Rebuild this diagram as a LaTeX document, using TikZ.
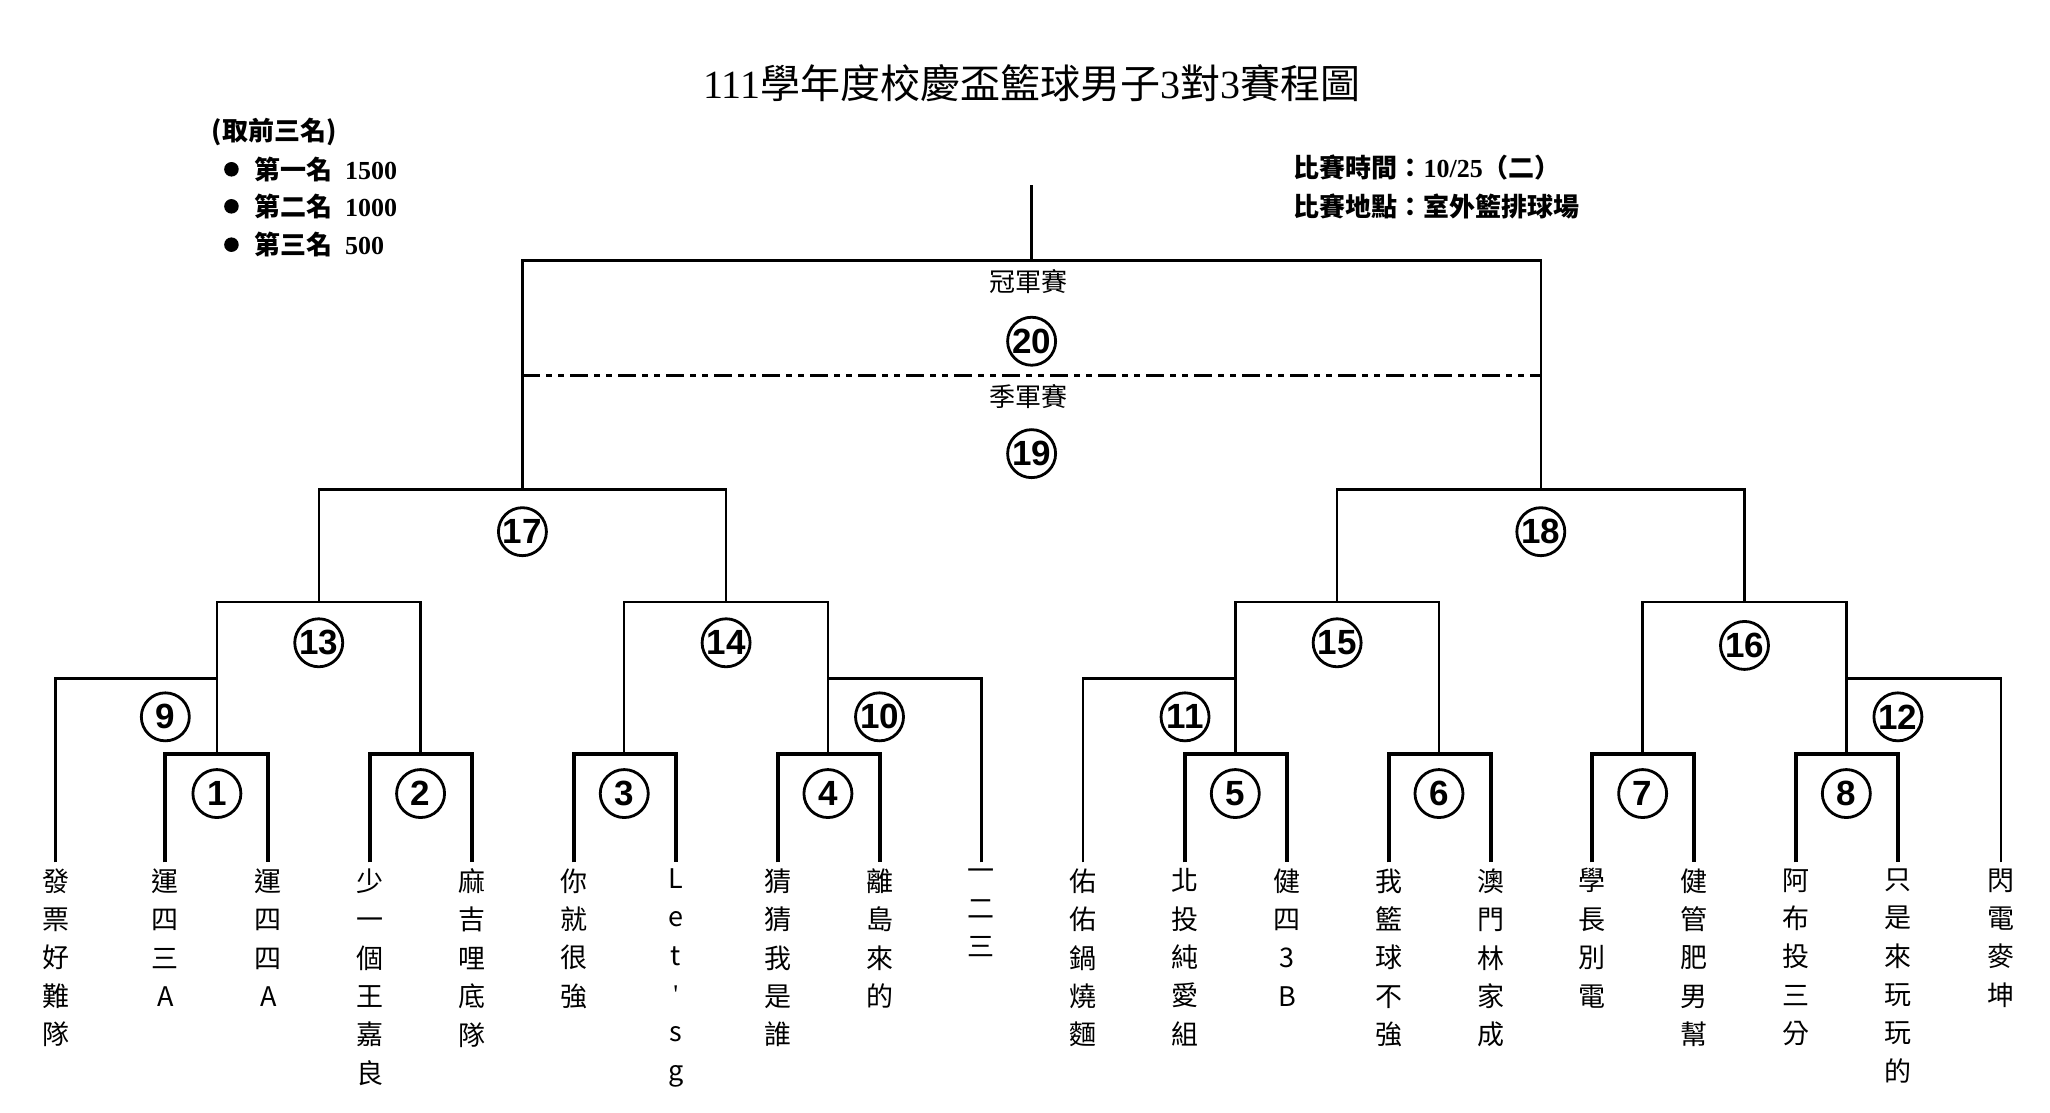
\documentclass[tikz,border=0pt]{standalone}
\usepackage{fontspec}
\setmainfont{Noto Sans CJK TC}
\newfontfamily\numf{Liberation Sans}
\newfontfamily\serf{Liberation Serif}
\begin{document}
\begin{tikzpicture}[x=1.3226pt,y=-1.3226pt,
  ln/.style={line width=2.4pt},
  r1/.style={line width=4pt},
  num/.style={circle,draw,line width=2.8pt,minimum size=48pt,inner sep=0pt,font=\numf\bfseries\fontsize{35}{35}\selectfont},
  leaf/.style={anchor=north,inner sep=0pt,align=center,font=\fontsize{27}{38.4}\selectfont,execute at begin node=\vphantom{發}},
  lab/.style={font=\fontsize{26}{28}\selectfont},
  leg/.style={anchor=west,inner sep=0pt,font=\bfseries\fontsize{26}{28}\selectfont}]
\useasboundingbox (0,0) rectangle (1550,840.8);
% leaves
\foreach \i/\x in {1/42,2/125,3/203,4/280,5/357,6/434,7/511,8/588,9/665,10/742,11/819,12/896,13/973,14/1050,15/1127,16/1204,17/1281,18/1358,19/1435,20/1513}
  \coordinate (L\i) at (\x,652);
\foreach \i/\t in {1/發\\票\\好\\難\\隊,2/運\\四\\三\\A,3/運\\四\\四\\A,4/少\\一\\個\\王\\嘉\\良,5/麻\\吉\\哩\\底\\隊,
  6/你\\就\\很\\強,7/L\\e\\t\\{\serf\textquotesingle}\\s\\g,8/猜\\猜\\我\\是\\誰,9/離\\島\\來\\的,10/一\\二\\三,
  11/佑\\佑\\鍋\\燒\\麵,12/北\\投\\純\\愛\\組,13/健\\四\\3\\B,14/我\\籃\\球\\不\\強,15/澳\\門\\林\\家\\成,
  16/學\\長\\別\\電,17/健\\管\\肥\\男\\幫,18/阿\\布\\投\\三\\分,19/只\\是\\來\\玩\\玩\\的,20/閃\\電\\麥\\坤}
  \node[leaf] (T\i) at ([yshift=-6pt]L\i) {\t};
% round 1
\foreach \a/\b/\m/\n in {2/3/164/1,4/5/318/2,6/7/472/3,8/9/626/4,12/13/934/5,14/15/1088/6,16/17/1242/7,18/19/1396/8}{
  \coordinate (J\n) at (\m,570);
  \draw[r1] (L\a) -- (L\a|-J\n) -- (L\b|-J\n) -- (L\b);
  \node[num] (N\n) at (\m,600) {\n};
}
% round 2 (byes)
\coordinate (J9) at (164,513); \coordinate (J10) at (626,513);
\coordinate (J11) at (934,513); \coordinate (J12) at (1396,513);
\draw[ln] (L1) -- (L1|-J9) -- (J9) -- (J1);
\draw[ln] (L10) -- (L10|-J10) -- (J10) -- (J4);
\draw[ln] (L11) -- (L11|-J11) -- (J11) -- (J5);
\draw[ln] (L20) -- (L20|-J12) -- (J12) -- (J8);
\node[num] (N9) at (125,542) {9};
\node[num] (N10) at (665,542) {10};
\node[num] (N11) at (896,542) {11};
\node[num] (N12) at (1435,542) {12};
% round 3
\coordinate (J13) at (241,455); \coordinate (J14) at (549,455);
\coordinate (J15) at (1011,455); \coordinate (J16) at (1319,455);
\draw[ln] (J9) -- (J9|-J13) -- (J2|-J13) -- (J2);
\draw[ln] (J3) -- (J3|-J14) -- (J10|-J14) -- (J10);
\draw[ln] (J11) -- (J11|-J15) -- (J6|-J15) -- (J6);
\draw[ln] (J7) -- (J7|-J16) -- (J12|-J16) -- (J12);
\node[num] (N13) at (241,486) {13};
\node[num] (N14) at (549,486) {14};
\node[num] (N15) at (1011,486) {15};
\node[num] (N16) at (1319,488) {16};
% round 4
\coordinate (J17) at (395,370); \coordinate (J18) at (1165,370);
\draw[ln] (J13) -- (J13|-J17) -- (J14|-J17) -- (J14);
\draw[ln] (J15) -- (J15|-J18) -- (J16|-J18) -- (J16);
\node[num] (N17) at (395,402) {17};
\node[num] (N18) at (1165,402) {18};
% final
\coordinate (F) at (780,197); \coordinate (Top) at (780,140);
\draw[ln] (J17) -- (J17|-F) -- (J18|-F) -- (J18);
\draw[ln] (F) -- (Top);
\draw[line width=3.4pt,dash pattern=on 18pt off 6pt on 6pt off 6pt on 6pt off 6pt] (395,284) -- (1165,284);
\node[lab] (champ) at (778,213) {冠軍賽};
\node[num] (N20) at (780,258) {20};
\node[lab] (third) at (778,300) {季軍賽};
\node[num] (N19) at (780,343) {19};
% title & legend
\node[font=\fontsize{40}{44}\selectfont] (title) at (780,63) {{\serf 111}學年度校慶盃籃球男子{\serf 3}對{\serf 3}賽程圖};
\node[leg] (lg0) at (160,100) {(取前三名)};
\foreach \k/\y/\t/\v in {1/128/第一名/1500,2/156/第二名/1000,3/185/第三名/500}{
  \fill (175,\y) circle (5.5);
  \node[leg] (lg\k) at (192,\y) {\t\hspace{0.5em}{\serf\bfseries \v}};
}
\node[leg] (info1) at (978,127) {比賽時間：{\serf\bfseries 10/25}（二）};
\node[leg] (info2) at (978,156) {比賽地點：室外籃排球場};
\end{tikzpicture}
\end{document}
